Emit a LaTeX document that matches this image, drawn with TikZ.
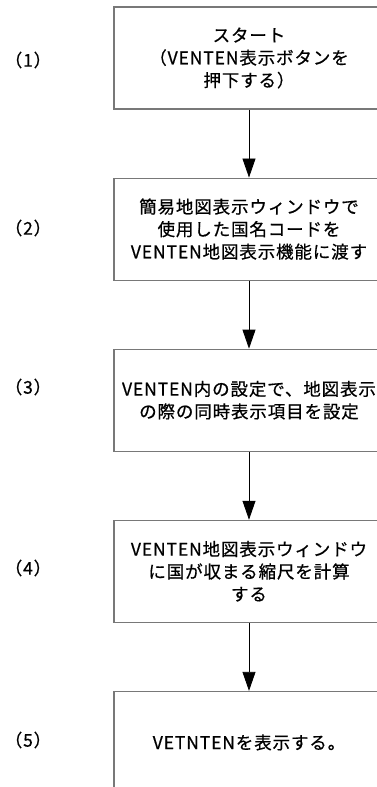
\documentclass[tikz,border=0pt]{standalone}
\usepackage{fontspec}
\setmainfont{Noto Sans CJK JP}[LetterSpace=5,FakeBold=0.6]
\usetikzlibrary{arrows.meta,positioning}
\definecolor{frame}{RGB}{120,120,120}
\definecolor{ink}{RGB}{0,0,0}
\tikzset{
  >={Triangle[length=19pt,width=13pt]},
  stepbox/.style={draw=frame,line width=1.1pt,minimum width=270pt,minimum height=102pt,
    align=center,inner sep=0pt,font=\fontsize{17.5}{22.5}\selectfont,text=ink},
  steplabel/.style={inner sep=0pt,font=\fontsize{17.5}{22.5}\selectfont,text=ink},
  flow/.style={->,draw=ink,line width=0.8pt},
}
\begin{document}
\begin{tikzpicture}[x=1pt,y=1pt]
  \useasboundingbox (0,0) rectangle (377,-787);
  \clip (0,0) rectangle (377,-787);
  % steps
  \node[stepbox] (s1) at (249,-58) {スタート\\（VENTEN表示ボタンを\\押下する）};
  \node[stepbox,below=68pt of s1] (s2) {簡易地図表示ウィンドウで\\使用した国名コードを\\VENTEN地図表示機能に渡す};
  \node[stepbox,below=68pt of s2] (s3) {VENTEN内の設定で、地図表示\\の際の同時表示項目を設定};
  \node[stepbox,below=68pt of s3] (s4) {VENTEN地図表示ウィンドウ\\に国が収まる縮尺を計算\\する};
  \node[stepbox,below=68pt of s4] (s5) {VETNTENを表示する。};
  \foreach \a/\b in {s1/s2,s2/s3,s3/s4,s4/s5}
    \draw[flow] (\a) -- (\b);
  % step numbers
  \node[steplabel] (n1) at (28,-60) {（1）};
  \node[steplabel] (n2) at (28,-228) {（2）};
  \node[steplabel] (n3) at (28,-387) {（3）};
  \node[steplabel] (n4) at (28,-568) {（4）};
  \node[steplabel] (n5) at (28,-740) {（5）};
\end{tikzpicture}
\end{document}
